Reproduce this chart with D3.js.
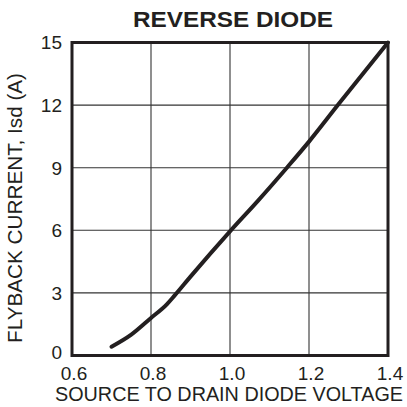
<!DOCTYPE html>
<html>
<head>
<meta charset="utf-8">
<script src="https://cdn.jsdelivr.net/npm/d3@7"></script>
<style>
html,body{margin:0;padding:0;background:#fff;}
svg{display:block;}
text{font-family:"Liberation Sans",Arial,Helvetica,sans-serif;fill:#231f20;}
</style>
</head>
<body>
<svg id="chart" width="407" height="407"></svg>
<script>
const title = "REVERSE DIODE";
const xTitle = "SOURCE TO DRAIN DIODE VOLTAGE";
const yTitle = "FLYBACK CURRENT, Isd (A)";
const xTicks = [0.6, 0.8, 1.0, 1.2, 1.4];
const yTicks = [0, 3, 6, 9, 12, 15];
const voltage = [0.70, 0.75, 0.80, 0.84, 0.86, 0.90, 1.00, 1.07, 1.144, 1.20, 1.273, 1.40];
const current = [0.42, 1.00, 1.80, 2.45, 2.88, 3.78, 5.95, 7.40, 9.00, 10.25, 12.0, 15.0];

const svg = d3.select("#chart");
const m = {l:72, r:388, t:42.5, b:355.5};
const x = d3.scaleLinear().domain([0.6, 1.4]).range([m.l, m.r]);
const y = d3.scaleLinear().domain([0, 15]).range([m.b, m.t]);
const ink = "#231f20";

// grid
svg.append("g").selectAll("line.v").data(xTicks.slice(1, -1)).join("line")
  .attr("x1", d => x(d)).attr("x2", d => x(d))
  .attr("y1", m.t).attr("y2", m.b)
  .attr("stroke", "#333").attr("stroke-width", 1.1);
svg.append("g").selectAll("line.h").data(yTicks.slice(1, -1)).join("line")
  .attr("y1", d => y(d)).attr("y2", d => y(d))
  .attr("x1", m.l).attr("x2", m.r)
  .attr("stroke", "#333").attr("stroke-width", 1.1);

// frame
svg.append("rect").attr("x", m.l).attr("y", m.t)
  .attr("width", m.r - m.l).attr("height", m.b - m.t)
  .attr("fill", "none").attr("stroke", ink).attr("stroke-width", 3);

// curve
const pts = voltage.map((v, i) => [v, current[i]]);
const line = d3.line().x(d => x(d[0])).y(d => y(d[1])).curve(d3.curveMonotoneX);
svg.append("path").datum(pts).attr("d", line)
  .attr("fill", "none").attr("stroke", ink).attr("stroke-width", 4)
  .attr("stroke-linecap", "round").attr("stroke-linejoin", "round");

// x tick labels
svg.append("g").selectAll("text").data(xTicks).join("text")
  .attr("x", d => x(d) + 2).attr("y", 380)
  .attr("text-anchor", "middle").attr("font-size", 19)
  .text(d => d3.format(".1f")(d));

// y tick labels
svg.append("g").selectAll("text").data(yTicks).join("text")
  .attr("x", 62).attr("y", d => y(d) - (d === 0 ? 3 : 0)).attr("dy", "0.36em")
  .attr("text-anchor", "end").attr("font-size", 19)
  .text(d => d);

// titles
svg.append("text").attr("x", 233).attr("y", 27).attr("text-anchor", "middle")
  .attr("font-size", 22).attr("font-weight", "bold")
  .attr("textLength", 200).attr("lengthAdjust", "spacingAndGlyphs")
  .text(title);
svg.append("text").attr("x", 229).attr("y", 401).attr("text-anchor", "middle")
  .attr("font-size", 19.6)
  .attr("textLength", 348).attr("lengthAdjust", "spacingAndGlyphs")
  .text(xTitle);
svg.append("text").attr("transform", "translate(22,208) rotate(-90)")
  .attr("text-anchor", "middle").attr("font-size", 19.6)
  .attr("textLength", 270).attr("lengthAdjust", "spacingAndGlyphs")
  .text(yTitle);
</script>
</body>
</html>
